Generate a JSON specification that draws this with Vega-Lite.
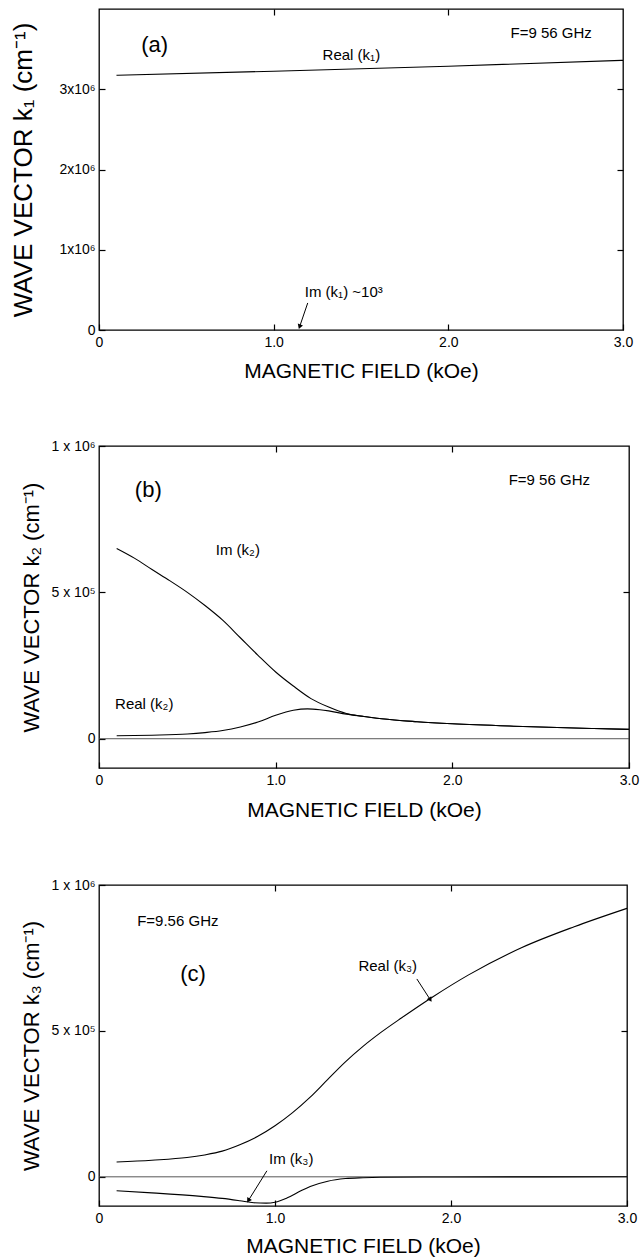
{
  "$schema": "https://vega.github.io/schema/vega-lite/v6.json",
  "padding": {"top": 7, "left": 10, "right": 5, "bottom": 2},
  "background": "white",
  "spacing": 56,
  "config": {
    "font": "Liberation Sans",
    "view": {"stroke": "black", "strokeWidth": 1.3},
    "axis": {
      "domain": false, "grid": false, "tickColor": "black", "tickSize": -6, "tickWidth": 1.2,
      "labelColor": "black", "titleColor": "black", "labelFont": "Liberation Sans", "titleFont": "Liberation Sans",
      "titleFontWeight": "normal", "labelFontSize": 14, "labelFlush": false
    },
    "text": {"font": "Liberation Sans", "color": "black"}
  },
  "datasets": {
    "a_lines": [
      {"H": 0.1, "k": 3175000, "series": "Real (k1)"},
      {"H": 1.0, "k": 3225000, "series": "Real (k1)"},
      {"H": 2.0, "k": 3287000, "series": "Real (k1)"},
      {"H": 3.0, "k": 3360000, "series": "Real (k1)"}
    ],
    "a_text": [
      {"H": 0.319, "k": 3550000, "text": "(a)", "role": "letter"},
      {"H": 1.28, "k": 3425000, "text": "Real (k₁)", "role": "label"},
      {"H": 2.356, "k": 3696000, "text": "F=9 56 GHz", "role": "label"},
      {"H": 1.178, "k": 475000, "text": "Im (k₁) ~10³", "role": "label"}
    ],
    "a_arrows": [
      {"H": 1.195, "k": 337000, "H2": 1.15, "k2": 50000}
    ],
    "b_lines": [
      {"H": 0.1, "k": 650000, "series": "Im (k2)"},
      {"H": 0.2, "k": 617000, "series": "Im (k2)"},
      {"H": 0.3, "k": 578000, "series": "Im (k2)"},
      {"H": 0.4, "k": 540000, "series": "Im (k2)"},
      {"H": 0.5, "k": 500000, "series": "Im (k2)"},
      {"H": 0.6, "k": 455000, "series": "Im (k2)"},
      {"H": 0.7, "k": 405000, "series": "Im (k2)"},
      {"H": 0.8, "k": 345000, "series": "Im (k2)"},
      {"H": 0.9, "k": 285000, "series": "Im (k2)"},
      {"H": 1.0, "k": 228000, "series": "Im (k2)"},
      {"H": 1.1, "k": 180000, "series": "Im (k2)"},
      {"H": 1.2, "k": 137000, "series": "Im (k2)"},
      {"H": 1.3, "k": 108000, "series": "Im (k2)"},
      {"H": 1.4, "k": 86000, "series": "Im (k2)"},
      {"H": 1.5, "k": 76000, "series": "Im (k2)"},
      {"H": 1.6, "k": 68000, "series": "Im (k2)"},
      {"H": 1.8, "k": 58000, "series": "Im (k2)"},
      {"H": 2.0, "k": 51000, "series": "Im (k2)"},
      {"H": 2.4, "k": 42000, "series": "Im (k2)"},
      {"H": 2.8, "k": 35000, "series": "Im (k2)"},
      {"H": 3.0, "k": 32000, "series": "Im (k2)"},
      {"H": 0.1, "k": 10000, "series": "Real (k2)"},
      {"H": 0.3, "k": 12000, "series": "Real (k2)"},
      {"H": 0.5, "k": 16000, "series": "Real (k2)"},
      {"H": 0.6, "k": 21000, "series": "Real (k2)"},
      {"H": 0.7, "k": 28000, "series": "Real (k2)"},
      {"H": 0.8, "k": 40000, "series": "Real (k2)"},
      {"H": 0.9, "k": 57000, "series": "Real (k2)"},
      {"H": 1.0, "k": 80000, "series": "Real (k2)"},
      {"H": 1.1, "k": 97000, "series": "Real (k2)"},
      {"H": 1.18, "k": 102000, "series": "Real (k2)"},
      {"H": 1.25, "k": 99000, "series": "Real (k2)"},
      {"H": 1.3, "k": 95000, "series": "Real (k2)"},
      {"H": 1.4, "k": 84000, "series": "Real (k2)"},
      {"H": 1.5, "k": 76000, "series": "Real (k2)"},
      {"H": 1.6, "k": 68000, "series": "Real (k2)"},
      {"H": 1.8, "k": 58000, "series": "Real (k2)"},
      {"H": 2.0, "k": 51000, "series": "Real (k2)"},
      {"H": 2.4, "k": 42000, "series": "Real (k2)"},
      {"H": 2.8, "k": 35000, "series": "Real (k2)"},
      {"H": 3.0, "k": 32000, "series": "Real (k2)"}
    ],
    "b_text": [
      {"H": 0.279, "k": 848000, "text": "(b)", "role": "letter"},
      {"H": 0.661, "k": 644000, "text": "Im (k₂)", "role": "label"},
      {"H": 0.091, "k": 118000, "text": "Real (k₂)", "role": "label"},
      {"H": 2.319, "k": 885000, "text": "F=9 56 GHz", "role": "label"}
    ],
    "c_lines": [
      {"H": 0.1, "k": 51000, "series": "Real (k3)"},
      {"H": 0.3, "k": 57000, "series": "Real (k3)"},
      {"H": 0.5, "k": 66000, "series": "Real (k3)"},
      {"H": 0.6, "k": 75000, "series": "Real (k3)"},
      {"H": 0.7, "k": 88000, "series": "Real (k3)"},
      {"H": 0.8, "k": 110000, "series": "Real (k3)"},
      {"H": 0.9, "k": 138000, "series": "Real (k3)"},
      {"H": 1.0, "k": 175000, "series": "Real (k3)"},
      {"H": 1.1, "k": 220000, "series": "Real (k3)"},
      {"H": 1.2, "k": 273000, "series": "Real (k3)"},
      {"H": 1.3, "k": 334000, "series": "Real (k3)"},
      {"H": 1.4, "k": 394000, "series": "Real (k3)"},
      {"H": 1.5, "k": 447000, "series": "Real (k3)"},
      {"H": 1.6, "k": 494000, "series": "Real (k3)"},
      {"H": 1.72, "k": 545000, "series": "Real (k3)"},
      {"H": 1.9, "k": 618000, "series": "Real (k3)"},
      {"H": 2.1, "k": 692000, "series": "Real (k3)"},
      {"H": 2.4, "k": 785000, "series": "Real (k3)"},
      {"H": 2.7, "k": 857000, "series": "Real (k3)"},
      {"H": 3.0, "k": 920000, "series": "Real (k3)"},
      {"H": 0.1, "k": -48000, "series": "Im (k3)"},
      {"H": 0.3, "k": -55000, "series": "Im (k3)"},
      {"H": 0.58, "k": -67000, "series": "Im (k3)"},
      {"H": 0.7, "k": -74000, "series": "Im (k3)"},
      {"H": 0.8, "k": -82000, "series": "Im (k3)"},
      {"H": 0.88, "k": -89000, "series": "Im (k3)"},
      {"H": 0.95, "k": -90000, "series": "Im (k3)"},
      {"H": 1.0, "k": -87000, "series": "Im (k3)"},
      {"H": 1.07, "k": -72000, "series": "Im (k3)"},
      {"H": 1.15, "k": -47000, "series": "Im (k3)"},
      {"H": 1.2, "k": -33000, "series": "Im (k3)"},
      {"H": 1.3, "k": -15000, "series": "Im (k3)"},
      {"H": 1.4, "k": -6000, "series": "Im (k3)"},
      {"H": 1.5, "k": -3000, "series": "Im (k3)"},
      {"H": 1.6, "k": -1500, "series": "Im (k3)"},
      {"H": 2.0, "k": -500, "series": "Im (k3)"},
      {"H": 3.0, "k": 0, "series": "Im (k3)"}
    ],
    "c_text": [
      {"H": 0.534, "k": 695000, "text": "(c)", "role": "letter"},
      {"H": 0.217, "k": 878000, "text": "F=9.56 GHz", "role": "label"},
      {"H": 1.474, "k": 723000, "text": "Real (k₃)", "role": "label"},
      {"H": 0.966, "k": 61000, "text": "Im (k₃)", "role": "label"}
    ],
    "c_arrows": [
      {"H": 1.806, "k": 678000, "H2": 1.88, "k2": 609000, "which": "Real"},
      {"H": 0.954, "k": 20600, "H2": 0.851, "k2": -79000, "which": "Im"}
    ],
    "origin": [{"k": 0}]
  },
  "vconcat": [
    {
      "width": 524, "height": 321,
      "resolve": {"axis": {"x": "independent", "y": "independent"}},
      "layer": [
        {
          "data": {"name": "a_lines"},
          "mark": {"type": "line", "color": "black", "strokeWidth": 1.1, "interpolate": "monotone"},
          "encoding": {
            "x": {"field": "H", "type": "quantitative", "scale": {"domain": [0, 3], "nice": false, "zero": false},
              "axis": {"orient": "bottom", "values": [0, 1, 2, 3], "labelExpr": "datum.value == 0 ? '0' : format(datum.value, '.1f')",
                "title": "MAGNETIC FIELD (kOe)", "titleFontSize": 21, "labelPadding": 11, "titlePadding": 11}},
            "y": {"field": "k", "type": "quantitative", "scale": {"domain": [0, 4000000], "nice": false},
              "axis": {"orient": "left", "values": [0, 1000000, 2000000, 3000000],
                "labelExpr": "datum.value == 0 ? '0' : format(datum.value / 1000000, 'd') + 'x10⁶'",
                "title": "WAVE VECTOR k₁ (cm⁻¹)", "titleFontSize": 26, "labelPadding": 10, "titlePadding": 22}},
            "detail": {"field": "series"},
            "order": {"field": "H"}
          }
        },
        {
          "data": {"name": "a_lines"},
          "mark": {"type": "line", "opacity": 0},
          "encoding": {
            "x": {"field": "H", "type": "quantitative", "axis": {"orient": "top", "values": [1, 2], "labels": false, "title": null}},
            "y": {"field": "k", "type": "quantitative", "axis": {"orient": "right", "values": [1000000, 2000000, 3000000], "labels": false, "title": null}}
          }
        },
        {
          "data": {"name": "a_text"},
          "transform": [{"filter": "datum.role == 'letter'"}],
          "mark": {"type": "text", "fontSize": 22, "align": "center", "baseline": "middle"},
          "encoding": {
            "x": {"field": "H", "type": "quantitative", "axis": null},
            "y": {"field": "k", "type": "quantitative", "axis": null},
            "text": {"field": "text"}
          }
        },
        {
          "data": {"name": "a_text"},
          "transform": [{"filter": "datum.role == 'label'"}],
          "mark": {"type": "text", "fontSize": 15, "align": "left", "baseline": "middle"},
          "encoding": {
            "x": {"field": "H", "type": "quantitative", "axis": null},
            "y": {"field": "k", "type": "quantitative", "axis": null},
            "text": {"field": "text"}
          }
        },
        {
          "data": {"name": "a_arrows"},
          "mark": {"type": "rule", "color": "black", "strokeWidth": 1},
          "encoding": {
            "x": {"field": "H", "type": "quantitative", "axis": null},
            "y": {"field": "k", "type": "quantitative", "axis": null},
            "x2": {"field": "H2"},
            "y2": {"field": "k2"}
          }
        },
        {
          "data": {"name": "a_arrows"},
          "mark": {"type": "point", "shape": "triangle", "filled": true, "color": "black", "size": 30, "angle": 199, "opacity": 1},
          "encoding": {
            "x": {"field": "H2", "type": "quantitative", "axis": null},
            "y": {"field": "k2", "type": "quantitative", "axis": null}
          }
        }
      ]
    },
    {
      "width": 530, "height": 322,
      "resolve": {"axis": {"x": "independent", "y": "independent"}},
      "layer": [
        {
          "data": {"name": "origin"},
          "mark": {"type": "rule", "color": "#444444", "strokeWidth": 0.9},
          "encoding": {"y": {"field": "k", "type": "quantitative", "axis": null}}
        },
        {
          "data": {"name": "b_lines"},
          "mark": {"type": "line", "color": "black", "strokeWidth": 1.1, "interpolate": "monotone"},
          "encoding": {
            "x": {"field": "H", "type": "quantitative", "scale": {"domain": [0, 3], "nice": false, "zero": false},
              "axis": {"orient": "bottom", "values": [0, 1, 2, 3], "labelExpr": "datum.value == 0 ? '0' : format(datum.value, '.1f')",
                "title": "MAGNETIC FIELD (kOe)", "titleFontSize": 21, "labelPadding": 11, "titlePadding": 12}},
            "y": {"field": "k", "type": "quantitative", "scale": {"domain": [-100000, 1000000], "nice": false},
              "axis": {"orient": "left", "values": [0, 500000, 1000000],
                "labelExpr": "datum.value == 0 ? '0' : datum.value == 500000 ? '5 x 10⁵' : '1 x 10⁶'",
                "title": "WAVE VECTOR k₂ (cm⁻¹)", "titleFontSize": 22, "labelPadding": 10, "titlePadding": 8}},
            "detail": {"field": "series"},
            "order": {"field": "H"}
          }
        },
        {
          "data": {"name": "b_lines"},
          "mark": {"type": "line", "opacity": 0},
          "encoding": {
            "x": {"field": "H", "type": "quantitative", "axis": {"orient": "top", "values": [1, 2], "labels": false, "title": null}},
            "y": {"field": "k", "type": "quantitative", "axis": {"orient": "right", "values": [500000], "labels": false, "title": null}},
            "detail": {"field": "series"}
          }
        },
        {
          "data": {"name": "b_text"},
          "transform": [{"filter": "datum.role == 'letter'"}],
          "mark": {"type": "text", "fontSize": 22, "align": "center", "baseline": "middle"},
          "encoding": {
            "x": {"field": "H", "type": "quantitative", "axis": null},
            "y": {"field": "k", "type": "quantitative", "axis": null},
            "text": {"field": "text"}
          }
        },
        {
          "data": {"name": "b_text"},
          "transform": [{"filter": "datum.role == 'label'"}],
          "mark": {"type": "text", "fontSize": 15, "align": "left", "baseline": "middle"},
          "encoding": {
            "x": {"field": "H", "type": "quantitative", "axis": null},
            "y": {"field": "k", "type": "quantitative", "axis": null},
            "text": {"field": "text"}
          }
        }
      ]
    },
    {
      "width": 528, "height": 321,
      "resolve": {"axis": {"x": "independent", "y": "independent"}},
      "layer": [
        {
          "data": {"name": "origin"},
          "mark": {"type": "rule", "color": "#444444", "strokeWidth": 0.9},
          "encoding": {"y": {"field": "k", "type": "quantitative", "axis": null}}
        },
        {
          "data": {"name": "c_lines"},
          "mark": {"type": "line", "color": "black", "strokeWidth": 1.1, "interpolate": "monotone"},
          "encoding": {
            "x": {"field": "H", "type": "quantitative", "scale": {"domain": [0, 3], "nice": false, "zero": false},
              "axis": {"orient": "bottom", "values": [0, 1, 2, 3], "labelExpr": "datum.value == 0 ? '0' : format(datum.value, '.1f')",
                "title": "MAGNETIC FIELD (kOe)", "titleFontSize": 21, "labelPadding": 11, "titlePadding": 10}},
            "y": {"field": "k", "type": "quantitative", "scale": {"domain": [-100000, 1000000], "nice": false},
              "axis": {"orient": "left", "values": [0, 500000, 1000000],
                "labelExpr": "datum.value == 0 ? '0' : datum.value == 500000 ? '5 x 10⁵' : '1 x 10⁶'",
                "title": "WAVE VECTOR k₃ (cm⁻¹)", "titleFontSize": 22, "labelPadding": 10, "titlePadding": 8}},
            "detail": {"field": "series"},
            "order": {"field": "H"}
          }
        },
        {
          "data": {"name": "c_lines"},
          "mark": {"type": "line", "opacity": 0},
          "encoding": {
            "x": {"field": "H", "type": "quantitative", "axis": {"orient": "top", "values": [1, 2], "labels": false, "title": null}},
            "y": {"field": "k", "type": "quantitative", "axis": {"orient": "right", "values": [500000], "labels": false, "title": null}},
            "detail": {"field": "series"}
          }
        },
        {
          "data": {"name": "c_text"},
          "transform": [{"filter": "datum.role == 'letter'"}],
          "mark": {"type": "text", "fontSize": 22, "align": "center", "baseline": "middle"},
          "encoding": {
            "x": {"field": "H", "type": "quantitative", "axis": null},
            "y": {"field": "k", "type": "quantitative", "axis": null},
            "text": {"field": "text"}
          }
        },
        {
          "data": {"name": "c_text"},
          "transform": [{"filter": "datum.role == 'label'"}],
          "mark": {"type": "text", "fontSize": 15, "align": "left", "baseline": "middle"},
          "encoding": {
            "x": {"field": "H", "type": "quantitative", "axis": null},
            "y": {"field": "k", "type": "quantitative", "axis": null},
            "text": {"field": "text"}
          }
        },
        {
          "data": {"name": "c_arrows"},
          "mark": {"type": "rule", "color": "black", "strokeWidth": 1},
          "encoding": {
            "x": {"field": "H", "type": "quantitative", "axis": null},
            "y": {"field": "k", "type": "quantitative", "axis": null},
            "x2": {"field": "H2"},
            "y2": {"field": "k2"}
          }
        },
        {
          "data": {"name": "c_arrows"},
          "transform": [{"filter": "datum.which == 'Real'"}],
          "mark": {"type": "point", "shape": "triangle", "filled": true, "color": "black", "size": 30, "angle": 147, "opacity": 1},
          "encoding": {
            "x": {"field": "H2", "type": "quantitative", "axis": null},
            "y": {"field": "k2", "type": "quantitative", "axis": null}
          }
        },
        {
          "data": {"name": "c_arrows"},
          "transform": [{"filter": "datum.which == 'Im'"}],
          "mark": {"type": "point", "shape": "triangle", "filled": true, "color": "black", "size": 30, "angle": 212, "opacity": 1},
          "encoding": {
            "x": {"field": "H2", "type": "quantitative", "axis": null},
            "y": {"field": "k2", "type": "quantitative", "axis": null}
          }
        }
      ]
    }
  ]
}
